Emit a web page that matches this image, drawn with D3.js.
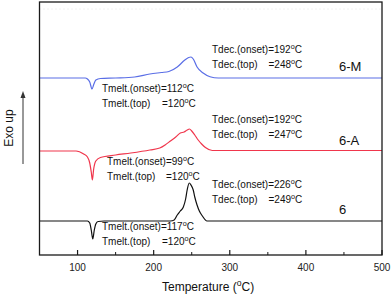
<!DOCTYPE html>
<html>
<head>
<meta charset="utf-8">
<script src="https://cdn.jsdelivr.net/npm/d3@7"></script>
<style>
  body { margin: 0; background: #fff; }
  svg { display: block; font-family: "Liberation Sans", Arial, sans-serif; }
</style>
</head>
<body>
<svg></svg>
<script>
// DSC traces, heat flow in arbitrary units (curves are offset vertically)
const tempM = [50, 110, 113, 116, 119, 121.5, 124, 130, 150, 175, 195, 210, 220, 231, 241, 246, 249, 252, 257, 265, 274, 285, 500];
const heatM = [17.7, 17.7, 17.6, 17.3, 16.6, 17.1, 17.5, 17.65, 17.7, 17.8, 18.1, 18.25, 18.35, 18.8, 19.5, 19.75, 19.8, 19.6, 18.8, 18.2, 17.83, 17.7, 17.7];

const tempA = [50, 98, 108, 113, 116, 118, 119.5, 121, 124, 130, 150, 170, 195, 208, 215, 222, 229, 235, 240, 244, 247, 250, 254, 258.5, 263, 268, 277, 500];
const heatA = [10.4, 10.4, 10.1, 9.8, 9.2, 8.3, 7.5, 8.5, 9.4, 9.75, 10.0, 10.2, 10.5, 10.7, 11.0, 11.4, 11.8, 12.2, 12.3, 12.5, 12.6, 12.4, 12.0, 11.5, 11.1, 10.75, 10.45, 10.45];

const temp6 = [50, 113, 116, 118, 120, 122, 124, 127, 135, 222, 227, 231, 235, 239, 242, 244, 246.7, 249, 252, 254, 257, 260, 264, 270, 500];
const heat6 = [3.4, 3.4, 3.2, 2.5, 1.6, 2.5, 3.1, 3.35, 3.4, 3.4, 3.5, 4.0, 4.4, 4.8, 5.6, 6.5, 7.2, 7.0, 6.5, 5.8, 5.0, 4.4, 3.9, 3.4, 3.4];

const seriesNames = ["6-M", "6-A", "6"];
const seriesColors = ["#5a6ee6", "#f0364c", "#111111"];

const melt = [
  { onset: "112", top: "120" },
  { onset: "99", top: "120" },
  { onset: "117", top: "120" }
];
const dec = [
  { onset: "192", top: "248" },
  { onset: "192", top: "247" },
  { onset: "226", top: "249" }
];

const xTicks = [100, 200, 300, 400, 500];
const xMinorTicks = [150, 250, 350, 450];

const width = 392;
const height = 296;
const margin = { top: 2, right: 10, bottom: 41, left: 39.5 };

const svg = d3.select("svg").attr("width", width).attr("height", height);

const xScale = d3.scaleLinear().domain([50, 500]).range([margin.left, width - margin.right]);
const yScale = d3.scaleLinear().domain([0, 25.3]).range([height - margin.bottom, margin.top]);

const x0 = margin.left, x1 = width - margin.right;
const y0 = margin.top, y1 = height - margin.bottom;

// faint dotted line near the top
svg.append("line")
  .attr("x1", x0).attr("x2", x1)
  .attr("y1", 9).attr("y2", 9)
  .attr("stroke", "#e4e4e4")
  .attr("stroke-dasharray", "1,3");

const line = d3.line()
  .curve(d3.curveMonotoneX)
  .x((d) => xScale(d[0]))
  .y((d) => yScale(d[1]));

const curves = [
  d3.zip(tempM, heatM),
  d3.zip(tempA, heatA),
  d3.zip(temp6, heat6)
];

curves.forEach((c, i) => {
  svg.append("path")
    .datum(c)
    .attr("fill", "none")
    .attr("stroke", seriesColors[i])
    .attr("stroke-width", 1.2)
    .attr("d", line);
});

// frame
svg.append("rect")
  .attr("x", x0).attr("y", y0)
  .attr("width", x1 - x0).attr("height", y1 - y0)
  .attr("fill", "none")
  .attr("stroke", "#1a1a1a")
  .attr("stroke-width", 1.3);

// bottom ticks, pointing inward
svg.selectAll(".major")
  .data(xTicks)
  .enter()
  .append("line")
  .attr("x1", (d) => xScale(d)).attr("x2", (d) => xScale(d))
  .attr("y1", y1).attr("y2", y1 - 5)
  .attr("stroke", "#1a1a1a")
  .attr("stroke-width", 1.2);

svg.selectAll(".minor")
  .data(xMinorTicks)
  .enter()
  .append("line")
  .attr("x1", (d) => xScale(d)).attr("x2", (d) => xScale(d))
  .attr("y1", y1).attr("y2", y1 - 3)
  .attr("stroke", "#1a1a1a")
  .attr("stroke-width", 1);

svg.selectAll(".tick-label")
  .data(xTicks)
  .enter()
  .append("text")
  .attr("x", (d) => xScale(d))
  .attr("y", 271)
  .attr("text-anchor", "middle")
  .attr("font-size", "10px")
  .attr("fill", "#222")
  .text((d) => d);

// text with a raised small "o" for the degree sign
const degText = (x, y, before, after, size) => {
  const t = svg.append("text")
    .attr("x", x).attr("y", y)
    .attr("font-size", size + "px")
    .attr("fill", "#111");
  t.append("tspan").text(before);
  t.append("tspan").attr("dy", -size * 0.42).attr("font-size", (size * 0.72) + "px").text("o");
  t.append("tspan").attr("dy", size * 0.42).text(after);
  return t;
};

// x axis title
degText(162, 291, "Temperature (", "C)", 12);

// y axis title and arrow
svg.append("text")
  .attr("transform", "translate(13,128) rotate(-90)")
  .attr("text-anchor", "middle")
  .attr("font-size", "12px")
  .attr("fill", "#111")
  .text("Exo up");

svg.append("line")
  .attr("x1", 23).attr("x2", 23)
  .attr("y1", 164).attr("y2", 96)
  .attr("stroke", "#333")
  .attr("stroke-width", 1);
svg.append("path")
  .attr("d", "M20.5,98 L23,91 L25.5,98 Z")
  .attr("fill", "#333");

// annotations
const meltY = [92, 165, 230];
const meltX = [102, 107, 102];
const meltTopX = [162, 166, 162];
const decY = [53, 123, 188];
const nameY = [71, 145, 214];

seriesNames.forEach((name, i) => {
  degText(meltX[i], meltY[i], "Tmelt.(onset)=" + melt[i].onset, "C", 10);
  svg.append("text")
    .attr("x", meltX[i]).attr("y", meltY[i] + 15)
    .attr("font-size", "10px").attr("fill", "#111")
    .text("Tmelt.(top)");
  degText(meltTopX[i], meltY[i] + 15, "=" + melt[i].top, "C", 10);

  degText(212, decY[i], "Tdec.(onset)=" + dec[i].onset, "C", 10);
  svg.append("text")
    .attr("x", 212).attr("y", decY[i] + 15)
    .attr("font-size", "10px").attr("fill", "#111")
    .text("Tdec.(top)");
  degText(268.5, decY[i] + 15, "=" + dec[i].top, "C", 10);

  svg.append("text")
    .attr("x", 339).attr("y", nameY[i])
    .attr("font-size", "13px").attr("fill", "#111")
    .text(name);
});
</script>
</body>
</html>
